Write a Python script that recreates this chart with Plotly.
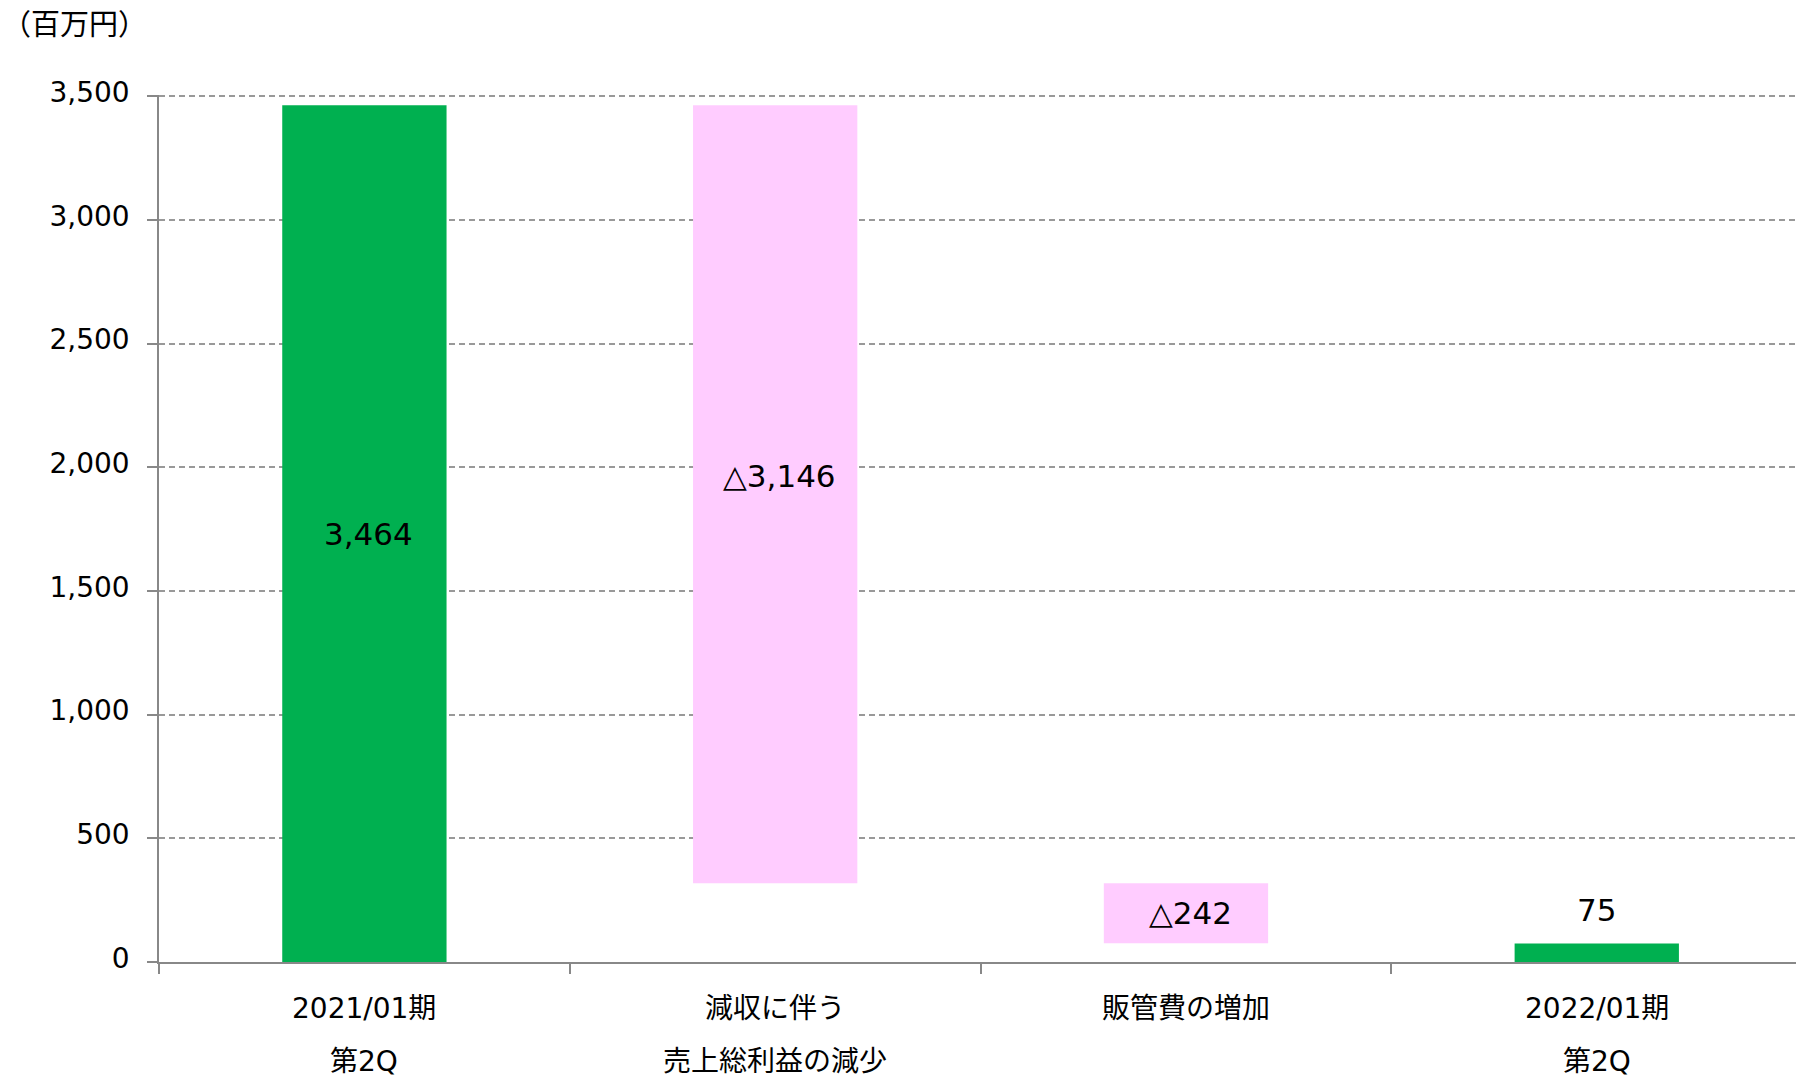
import plotly.graph_objects as go

# Data
categories_line1 = ["2021/01期", "減収に伴う", "販管費の増加", "2022/01期"]
categories_line2 = ["第2Q", "売上総利益の減少", "", "第2Q"]
values = [3464, -3146, -242, 75]          # start, deltas, end
kinds = ["total", "delta", "delta", "total"]
y_ticks = [0, 500, 1000, 1500, 2000, 2500, 3000, 3500]
unit_label = "（百万円）"

GREEN = "#00B050"
PINK = "#FFCCFF"
FONT = "DejaVu Sans, Noto Sans CJK JP, sans-serif"

# compute floating bar bases
bases, heights, colors, labels = [], [], [], []
running = 0
for v, k in zip(values, kinds):
    if k == "total":
        bases.append(0)
        heights.append(v)
        running = v
        colors.append(GREEN)
        labels.append(f"{v:,}")
    else:
        new = running + v
        bases.append(min(running, new))
        heights.append(abs(v))
        running = new
        colors.append(PINK)
        labels.append(("△" if v < 0 else "") + f"{abs(v):,}")

xs = list(range(len(values)))

fig = go.Figure()
fig.add_trace(go.Bar(
    x=xs, y=heights, base=bases, width=0.4,
    marker=dict(color=colors, line=dict(width=0)),
    showlegend=False, hoverinfo="skip",
))

annotations = []
# value labels
for i, (b, h, lab) in enumerate(zip(bases, heights, labels)):
    if kinds[i] == "total" and h < 300:
        annotations.append(dict(x=i, y=b + h, text=lab, showarrow=False,
                                yanchor="bottom", yshift=13,
                                font=dict(size=31, color="#000000", family=FONT)))
    else:
        yshift = 18 if (kinds[i] == "delta" and h > 1000) else 0
        annotations.append(dict(x=i + 0.01, y=b + h / 2, text=lab, showarrow=False,
                                yanchor="middle", yshift=yshift,
                                font=dict(size=31, color="#000000", family=FONT)))
# category labels
for i, (l1, l2) in enumerate(zip(categories_line1, categories_line2)):
    annotations.append(dict(x=i, y=0, yref="paper", text=l1, showarrow=False,
                            yanchor="middle", yshift=-46,
                            font=dict(size=28, color="#000000", family=FONT)))
    if l2:
        annotations.append(dict(x=i, y=0, yref="paper", text=l2, showarrow=False,
                                yanchor="middle", yshift=-99, borderpad=0,
                                font=dict(size=28, color="#000000", family=FONT)))
# unit label
annotations.append(dict(x=-159 / 1637, y=1.0, xref="paper", yref="paper", text=unit_label,
                        showarrow=False, xanchor="left", yanchor="middle", yshift=70,
                        font=dict(size=29, color="#000000", family=FONT)))

fig.update_layout(
    width=1796, height=1077,
    margin=dict(l=159, r=0, t=95, b=115),
    paper_bgcolor="white", plot_bgcolor="white",
    annotations=annotations,
    xaxis=dict(
        range=[-0.5, 3.485],
        tickvals=[-0.5, 0.5, 1.5, 2.5],
        showticklabels=False,
        ticks="outside", ticklen=10, tickcolor="#888888", tickwidth=1.5,
        showline=True, linecolor="#888888", linewidth=2,
        showgrid=False, zeroline=False,
    ),
    yaxis=dict(
        range=[0, 3505],
        tickvals=y_ticks,
        tickformat=",",
        ticks="outside", ticklen=10, tickcolor="#888888", tickwidth=1.5,
        ticklabelstandoff=12, ticklabelshift=-4,
        showline=True, linecolor="#888888", linewidth=1.5,
        showgrid=True, gridcolor="#999999", gridwidth=1.5, griddash="6px,4px",
        zeroline=False,
        tickfont=dict(size=28, color="#000000", family=FONT),
    ),
    font=dict(family=FONT),
)

fig.write_html("out.html")
